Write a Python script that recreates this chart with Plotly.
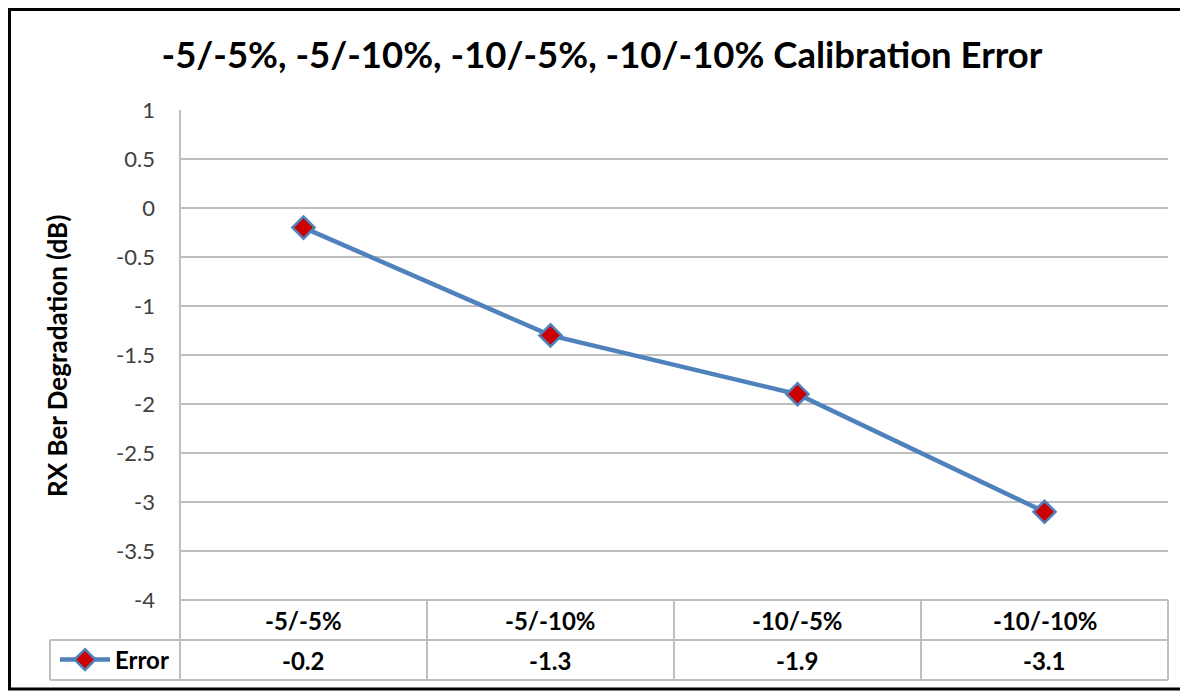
import plotly.graph_objects as go

categories = ["-5/-5%", "-5/-10%", "-10/-5%", "-10/-10%"]
values = [-0.2, -1.3, -1.9, -3.1]
value_labels = ["-0.2", "-1.3", "-1.9", "-3.1"]
y_ticks = [1, 0.5, 0, -0.5, -1, -1.5, -2, -2.5, -3, -3.5, -4]
y_tick_labels = ["1", "0.5", "0", "-0.5", "-1", "-1.5", "-2", "-2.5", "-3", "-3.5", "-4"]
series_name = "Error"
title_text = "-5/-5%, -5/-10%, -10/-5%, -10/-10% Calibration Error"
y_title = "RX Ber Degradation (dB)"

OFF = 8  # page body margin
W, H = 1188 - OFF, 700 - OFF
L, R, T, B = 180 - OFF, 20, 110 - OFF, 100
pw, ph = W - L - R, H - T - B


def px_x(p):
    # p: reference-screen x pixel
    return (p - OFF - L) / pw


def px_y(p):
    # p: reference-screen y pixel
    return (H - B - (p - OFF)) / ph


FONT = "Lato"
GRID = "#BFBFBF"
BLUE = "#4F81BD"

fig = go.Figure()
fig.add_trace(go.Scatter(
    x=categories, y=values, name=series_name, mode="lines+markers",
    line=dict(color=BLUE, width=4.5),
    marker=dict(symbol="diamond", size=17, color="#CC0000",
                line=dict(color=BLUE, width=2.5)),
    showlegend=True,
))

shapes = []
row1_top, row1_bot, row2_bot = px_y(600), px_y(640), px_y(680)
shapes.append(dict(type="line", xref="paper", yref="paper", x0=0, x1=0,
                   y0=1, y1=row2_bot, line=dict(color=GRID, width=2)))
shapes.append(dict(type="line", xref="paper", yref="paper", x0=1, x1=1,
                   y0=row1_top, y1=row2_bot, line=dict(color=GRID, width=2)))
for i in range(1, len(categories)):
    shapes.append(dict(type="line", xref="x", yref="paper", x0=i - 0.5, x1=i - 0.5,
                       y0=row1_top, y1=row2_bot, line=dict(color=GRID, width=2)))
shapes.append(dict(type="line", xref="paper", yref="paper", x0=0, x1=1,
                   y0=row1_top, y1=row1_top, line=dict(color=GRID, width=2)))
for yy in (row1_bot, row2_bot):
    shapes.append(dict(type="line", xref="paper", yref="paper", x0=px_x(50), x1=1,
                       y0=yy, y1=yy, line=dict(color=GRID, width=2)))
shapes.append(dict(type="line", xref="paper", yref="paper", x0=px_x(50), x1=px_x(50),
                   y0=row1_bot, y1=row2_bot, line=dict(color=GRID, width=2)))
shapes.append(dict(type="rect", xref="paper", yref="paper", x0=px_x(9.5), x1=px_x(1186),
                   y0=px_y(689), y1=px_y(9.5), line=dict(color="black", width=3)))

annotations = []
for c, v in zip(categories, value_labels):
    annotations.append(dict(x=c, xref="x", y=(row1_top + row1_bot) / 2, yref="paper",
                            text=c, showarrow=False, yanchor="middle",
                            font=dict(family=FONT, size=24, color="black", weight="bold")))
    annotations.append(dict(x=c, xref="x", y=(row1_bot + row2_bot) / 2, yref="paper",
                            text=v, showarrow=False, yanchor="middle",
                            font=dict(family=FONT, size=24, color="black", weight="bold")))
annotations.append(dict(x=px_x(57), xref="paper", y=px_y(356), yref="paper", text=y_title,
                        textangle=-90, showarrow=False, xanchor="center", yanchor="middle",
                        font=dict(family=FONT, size=26, color="black", weight="bold")))

fig.update_layout(
    width=W, height=H,
    margin=dict(l=L, r=R, t=T, b=B),
    paper_bgcolor="white", plot_bgcolor="white",
    title=dict(text=title_text, x=(602 - OFF) / W, xanchor="center",
               y=1 - (55 - OFF) / H, yanchor="middle",
               font=dict(family=FONT, size=36.5, color="black", weight="bold")),
    xaxis=dict(type="category", range=[-0.5, len(categories) - 0.5], showticklabels=False,
               showgrid=False, zeroline=False, showline=False, fixedrange=True),
    yaxis=dict(range=[-4, 1], tickvals=y_ticks, ticktext=y_tick_labels, showgrid=True,
               gridcolor=GRID, gridwidth=2, zeroline=False, showline=False,
               tickfont=dict(family=FONT, size=22, color="#404040"), ticklabelstandoff=24),
    legend=dict(x=px_x(55), xanchor="left", y=(row1_bot + row2_bot) / 2, yanchor="middle",
                bgcolor="rgba(0,0,0,0)", itemwidth=50,
                font=dict(family=FONT, size=24, color="black", weight="bold")),
    shapes=shapes,
    annotations=annotations,
)

fig.write_html("out.html")
